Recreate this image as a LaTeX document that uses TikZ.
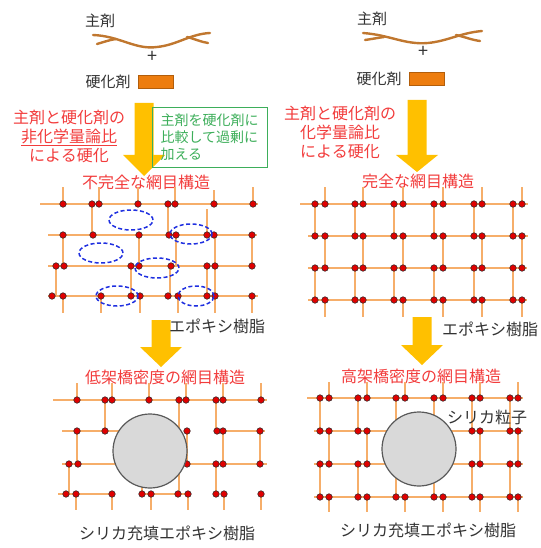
\documentclass[tikz,border=0pt]{standalone}
\usepackage{fontspec}
\setmainfont{Noto Sans CJK JP}
\usetikzlibrary{positioning}
\definecolor{darktext}{HTML}{333333}
\definecolor{headred}{HTML}{F23C3C}
\definecolor{notegreen}{HTML}{3DAE5A}
\definecolor{bondorange}{HTML}{F6AE6A}
\definecolor{dotred}{HTML}{E00000}
\definecolor{dotrim}{HTML}{3A2A2A}
\definecolor{voidblue}{HTML}{1F2FE0}
\definecolor{silicagray}{HTML}{D9D9D9}
\definecolor{silicaedge}{HTML}{595959}
\definecolor{resinbrown}{HTML}{C0772F}
\definecolor{chiporange}{HTML}{ED7D0F}
\definecolor{flowyellow}{HTML}{FFC000}

\begin{document}
\begin{tikzpicture}[x=1pt,y=-1pt,
  txt/.style={text=darktext,font=\fontsize{16}{18}\selectfont,inner sep=1pt},
  hd/.style={text=headred,font=\fontsize{16}{19}\selectfont,inner sep=1pt},
  note/.style={draw=notegreen,line width=0.8pt,text=notegreen,font=\fontsize{14}{17}\selectfont,
    align=left,text width=98pt,inner xsep=8.5pt,minimum height=60pt},
  hardener/.style={draw=chiporange!75!black,fill=chiporange,line width=0.8pt,minimum width=35pt,minimum height=13pt,inner sep=0pt},
  bond/.style={draw=bondorange,line width=1.8pt},
  dot/.style={circle,fill=dotred,draw=dotrim,line width=0.6pt,inner sep=0pt,minimum size=6.5pt},
  void/.style={draw=voidblue,line width=1.5pt,dash pattern=on 4pt off 2.5pt},
  filler/.style={circle,draw=silicaedge,fill=silicagray,line width=1.2pt,minimum size=74pt,inner sep=0pt},
  resin/.style={draw=resinbrown,line width=2.4pt,line cap=round},
  flow/.style={fill=flowyellow}]
\useasboundingbox (0,0) rectangle (540,548);

% --- starting materials
\node[txt,font=\fontsize{15}{18}\selectfont] (base1) at (100,21) {主剤};
\node[txt,font=\fontsize{15}{18}\selectfont] (base2) at (372,19) {主剤};
\draw[resin] (93,35) .. controls (120,36) and (135,50) .. (157,47) .. controls (177,45) and (190,34) .. (210,33);
\draw[resin] (97,44) .. controls (104,42) and (109,40) .. (116,39);
\draw[resin] (187,37) .. controls (195,39) and (201,42) .. (208,43);
\draw[resin] (363,33) .. controls (390,35) and (405,45) .. (428,43) .. controls (448,41) and (460,33) .. (482,31);
\draw[resin] (365,40) .. controls (372,39) and (377,38) .. (384,37);
\draw[resin] (456,35) .. controls (465,37) and (472,40) .. (480,41);
\node[txt,font=\fontsize{18}{18}\selectfont] (plus1) at (152,57) {+};
\node[txt,font=\fontsize{18}{18}\selectfont] (plus2) at (423,52) {+};
\node[txt,font=\fontsize{15}{18}\selectfont] (cure1) at (108,82) {硬化剤};
\node[txt,font=\fontsize{15}{18}\selectfont] (cure2) at (379,79) {硬化剤};
\node[hardener,right=6pt of cure1] (chip1) {};
\node[hardener,right=6pt of cure2] (chip2) {};

% --- curing arrows
\foreach \x/\ya/\yb/\yt in {144/103/155/176,417/100/155/172,161/320/347/367,422/317/345/365}
  \fill[flow] ({\x-9.5},\ya) -- ({\x+9.5},\ya) -- ({\x+9.5},\yb) -- ({\x+21},\yb)
    -- (\x,\yt) -- ({\x-21},\yb) -- ({\x-9.5},\yb) -- cycle;
\node[hd,align=center] (cond1) at (69,136) {主剤と硬化剤の\\\underline{非化学量論比}\\による硬化};
\node[hd,align=center] (cond2) at (340,132) {主剤と硬化剤の\\化学量論比\\による硬化};
\node[note] (excess) at (209.5,137) {主剤を硬化剤に\\比較して過剰に\\加える};

% --- incomplete network
\node[hd] (net1) at (146,182) {不完全な網目構造};
\draw[bond] (40,204)--(258,204) (48,235)--(257,235) (48,266)--(255,266) (48,296)--(258,296);
\foreach \x in {63,99,138,175,253} \draw[bond] (\x,187)--(\x,204);
\draw[bond] (214,190)--(214,204);
\draw[bond] (92,204)--(92,235) (168,204)--(168,235) (207,209)--(207,235);
\foreach \x in {63,139,176,215,252} \draw[bond] (\x,235)--(\x,266);
\foreach \x in {56,131,170,207,215} \draw[bond] (\x,266)--(\x,296);
\foreach \x in {63,101,140,178,215,252} \draw[bond] (\x,296)--(\x,313);
\foreach \x [count=\i] in {63,92,99,138,168,175,214,253} \node[dot] (ia\i) at (\x,204) {};
\foreach \x [count=\i] in {63,93,139,169,176,207,214,252} \node[dot] (ib\i) at (\x,235) {};
\foreach \x [count=\i] in {56,64,131,139,171,207,215,252} \node[dot] (ic\i) at (\x,266) {};
\foreach \x [count=\i] in {52,63,101,131,140,168,178,207,215,252} \node[dot] (id\i) at (\x,296) {};
\foreach \x/\y/\rx in {131/220/22,191/234/21,101/253/22,157/268/22,117/296/21,196/296/18}
  \draw[void] (\x,\y) ellipse [x radius=\rx pt,y radius=10pt];
\node[txt] (ep1) at (217,326) {エポキシ樹脂};

% --- complete network
\node[hd] (net2) at (418,181) {完全な網目構造};
\draw[bond] (300,204)--(528,204) (308,236)--(528,236) (308,268)--(527,268) (308,300)--(527,300);
\foreach \a/\b in {315/325,355/363,394/403,434/443,474/482,513/522}
  \draw[bond] (\b,187)--(\b,204) (\a,204)--(\a,236) (\b,236)--(\b,268) (\a,268)--(\a,300) (\b,300)--(\b,317);
\foreach \y [count=\r] in {204,236,268,300}
  \foreach \a/\b [count=\i] in {315/325,355/363,394/403,434/443,474/482,513/522}
    {\node[dot] (ca\r-\i) at (\a,\y) {}; \node[dot] (cb\r-\i) at (\b,\y) {};}
\node[txt] (ep2) at (490,329) {エポキシ樹脂};

% --- low crosslink density with silica
\node[hd] (net3) at (165,377) {低架橋密度の網目構造};
\draw[bond] (53,400)--(267,400) (62,431)--(150,431) (218,431)--(265,431) (62,464)--(267,464)
  (58,494)--(113,494) (142,494)--(190,494);
\foreach \x in {77,112,149,186,223,261} \draw[bond] (\x,383)--(\x,400);
\draw[bond] (105,400)--(105,431) (179,400)--(179,494) (216,400)--(216,431);
\foreach \x in {77,187,223,260} \draw[bond] (\x,431)--(\x,464);
\foreach \x in {69,142,216} \draw[bond] (\x,464)--(\x,494);
\foreach \x in {76,112,151,188,224,261} \draw[bond] (\x,494)--(\x,510);
\foreach \x [count=\i] in {77,105,112,149,179,186,216,223,261} \node[dot] (la\i) at (\x,400) {};
\foreach \x [count=\i] in {77,105,187,217,223,260} \node[dot] (lb\i) at (\x,431) {};
\foreach \x [count=\i] in {69,78,187,216,223,260} \node[dot] (lc\i) at (\x,464) {};
\foreach \x [count=\i] in {66,76,112,142,151,178,188,216,224,261} \node[dot] (ld\i) at (\x,494) {};
\node[filler] (silica1) at (150,451) {};
\node[txt] (comp1) at (167,533) {シリカ充填エポキシ樹脂};

% --- high crosslink density with silica
\node[hd] (net4) at (421,376) {高架橋密度の網目構造};
\draw[bond] (307,398)--(523,398) (314,431)--(523,431) (314,464)--(523,464) (314,497)--(523,497);
\foreach \a/\b in {320/329,358/367,396/405,434/443,472/480,510/518}
  \draw[bond] (\b,382)--(\b,398) (\a,398)--(\a,431) (\b,431)--(\b,464) (\a,464)--(\a,497) (\b,497)--(\b,512);
\foreach \y [count=\r] in {398,431,464,497}
  \foreach \a/\b [count=\i] in {320/329,358/367,396/405,434/443,472/480,510/518}
    {\node[dot] (ha\r-\i) at (\a,\y) {}; \node[dot] (hb\r-\i) at (\b,\y) {};}
\node[filler] (silica2) at (419,449) {};
\node[txt] (particle) at (487,417) {シリカ粒子};
\node[txt] (comp2) at (428,530) {シリカ充填エポキシ樹脂};
\end{tikzpicture}
\end{document}
